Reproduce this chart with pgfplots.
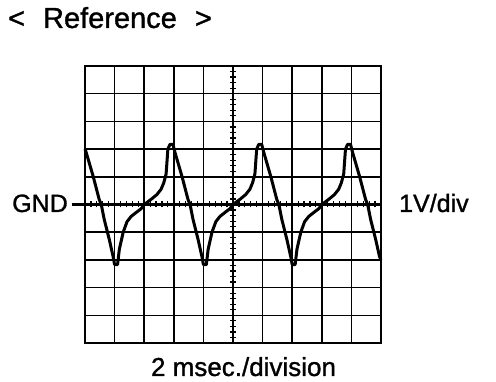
\documentclass[border=0pt]{standalone}
\usepackage{pgfplots}
\pgfplotsset{compat=1.18}
\usepackage{fontspec}
\setmainfont{Liberation Sans}[FakeBold=1.2]
\begin{document}
\begin{tikzpicture}[x=1pt,y=1pt]
\useasboundingbox (0,0) rectangle (496,382);
\begin{axis}[
  at={(85pt,39pt)}, anchor=south west,
  scale only axis, width=296pt, height=277pt,
  xmin=0, xmax=10, ymin=-5, ymax=5,
  xtick={0,...,10}, ytick={-5,...,5},
  xticklabels={}, yticklabels={},
  major tick length=0pt,
  grid=major,
  major grid style={black, line width=1.5pt},
  axis line style={black, line width=2.8pt},
  clip=false,
]
\addplot[black, line width=3pt, line join=round] coordinates {
(0,2.0) (0.04,1.88) (0.28,1.0) (0.48,0.18) (0.55,0) (0.65,-0.54) (0.82,-1.26) (0.95,-1.88) (1.0,-2.17) (1.1,-2.17) (1.16,-1.62) (1.29,-1.0) (1.42,-0.62) (1.56,-0.43) (1.75,-0.27) (1.9,-0.15) (2.0,0) (2.09,0.07) (2.25,0.2) (2.43,0.36) (2.57,0.55) (2.66,0.78) (2.74,1.1) (2.8,2.0) (2.87,2.17) (2.97,2.17)
(3.04,1.88) (3.28,1.0) (3.48,0.18) (3.55,0) (3.65,-0.54) (3.82,-1.26) (3.95,-1.88) (4.0,-2.17) (4.1,-2.17) (4.16,-1.62) (4.29,-1.0) (4.42,-0.62) (4.56,-0.43) (4.75,-0.27) (4.9,-0.15) (5.0,0) (5.09,0.07) (5.25,0.2) (5.43,0.36) (5.57,0.55) (5.66,0.78) (5.74,1.1) (5.8,2.0) (5.87,2.17) (5.97,2.17)
(6.04,1.88) (6.28,1.0) (6.48,0.18) (6.55,0) (6.65,-0.54) (6.82,-1.26) (6.95,-1.88) (7.0,-2.17) (7.1,-2.17) (7.16,-1.62) (7.29,-1.0) (7.42,-0.62) (7.56,-0.43) (7.75,-0.27) (7.9,-0.15) (8.0,0) (8.09,0.07) (8.25,0.2) (8.43,0.36) (8.57,0.55) (8.66,0.78) (8.74,1.1) (8.8,2.0) (8.87,2.17) (8.97,2.17)
(9.04,1.88) (9.28,1.0) (9.48,0.18) (9.55,0) (9.65,-0.54) (9.82,-1.26) (9.95,-1.88) (10,-2.0)
};
\end{axis}
% center lines
\draw[line width=2.2pt] (72,177.5) -- (381,177.5);
\draw[line width=2.2pt] (233,39) -- (233,316);
\foreach \i in {1,...,49} {
  \draw[line width=1.2pt] (85+5.92*\i,174.5) -- (85+5.92*\i,180.5);
  \draw[line width=1.2pt] (230,39+5.54*\i) -- (236,39+5.54*\i);
}
\node[anchor=base west, inner sep=0pt, font=\fontsize{29}{32}\selectfont] at (8,354) {<\hspace{0.62em}Reference\hspace{0.62em}>};
\node[anchor=base east, inner sep=0pt, font=\fontsize{25}{30}\selectfont] at (68,170) {GND};
\node[anchor=base west, inner sep=0pt, font=\fontsize{25}{30}\selectfont] at (399,170) {1V/div};
\node[anchor=base, inner sep=0pt, font=\fontsize{26}{30}\selectfont] at (243.5,6) {2 msec./division};
\end{tikzpicture}
\end{document}
